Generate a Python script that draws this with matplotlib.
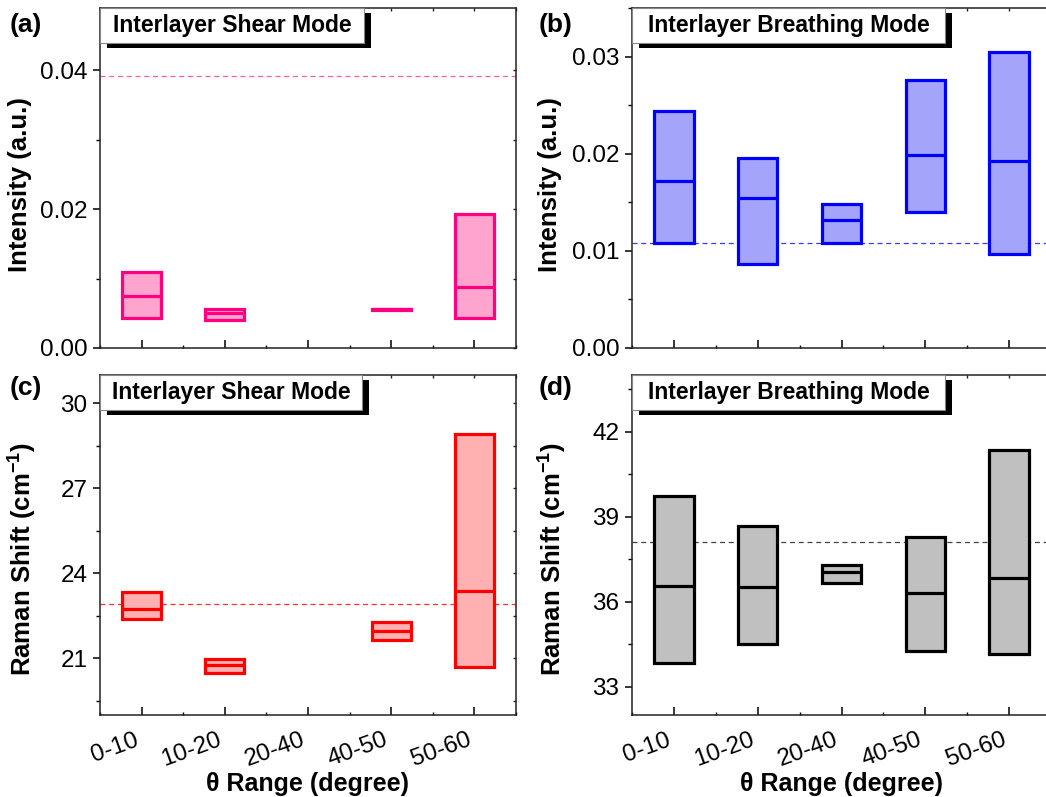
import matplotlib
matplotlib.use('Agg')
import matplotlib.pyplot as plt
import numpy as np
from matplotlib.patches import Rectangle
from matplotlib.ticker import MultipleLocator, FormatStrFormatter, NullFormatter

# Data:
cats = ['0-10', '10-20', '20-40', '40-50', '50-60']

# (a) shear mode intensity
shear_int_low = [0.0043, 0.0040, np.nan, 0.00553, 0.0043]
shear_int_med = [0.00755, 0.0050, np.nan, 0.0056, 0.00885]
shear_int_high = [0.0109, 0.00555, np.nan, 0.00568, 0.0193]
shear_int_ref = 0.03925

# (b) breathing mode intensity
breath_int_low = [0.0108, 0.0086, 0.0108, 0.0140, 0.0097]
breath_int_med = [0.01714, 0.01539, 0.01313, 0.01989, 0.01927]
breath_int_high = [0.0244, 0.0196, 0.0148, 0.0276, 0.0305]
breath_int_ref = 0.0108

# (c) shear mode Raman shift
shear_shift_low = [22.40, 20.50, np.nan, 21.63, 20.71]
shear_shift_med = [22.74, 20.78, np.nan, 21.95, 23.36]
shear_shift_high = [23.34, 20.96, np.nan, 22.28, 28.92]
shear_shift_ref = 22.92

# (d) breathing mode Raman shift
breath_shift_low = [33.82, 34.49, 36.67, 34.25, 34.14]
breath_shift_med = [36.56, 36.53, 37.06, 36.30, 36.83]
breath_shift_high = [39.72, 38.68, 37.28, 38.27, 41.36]
breath_shift_ref = 38.12

# %% Plotting:
plt.rcParams['font.family'] = ['Liberation Sans', 'DejaVu Sans']
plt.rcParams['mathtext.fontset'] = 'custom'
plt.rcParams['mathtext.rm'] = 'Liberation Sans'
plt.rcParams['mathtext.bf'] = 'Liberation Sans:bold'
fsize = 17.5
plt.close('all')

fig = plt.figure(figsize=(10.46, 7.97), dpi=100)
W, H = 1046, 797


def px_axes(left, top, width, height):
    return fig.add_axes([left / W, 1 - (top + height) / H, width / W, height / H])


ax_a = px_axes(100, 8, 416, 340)
ax_b = px_axes(632, 8, 419, 340)
ax_c = px_axes(100, 375, 416, 340)
ax_d = px_axes(632, 375, 419, 340)


def draw_panel(ax, low, med, high, ref, edge, fill, refcolor, ylim, major, minor, fmt,
               title, box_w, ylabel, bottom_row, ylab_x, ylab_y):
    x = np.arange(len(cats))
    ok = ~np.isnan(np.array(low))
    lo = np.array(low)[ok]
    hi = np.array(high)[ok]
    md = np.array(med)[ok]
    xs = x[ok]
    bw = 0.47
    ax.bar(xs, hi - lo, bottom=lo, width=bw, color=fill, edgecolor=edge,
           linewidth=2.3, zorder=3)
    for b in ax.patches:
        b.set_joinstyle('miter')
    ax.hlines(md, xs - bw / 2, xs + bw / 2, colors=edge, linewidth=2.3, zorder=4)
    ax.axhline(ref, color=refcolor, linestyle=(0, (4, 3)), linewidth=0.9, zorder=2)

    ax.set_xlim(-0.5, 4.5)
    ax.set_ylim(*ylim)
    ax.set_xticks(x)
    ax.xaxis.set_minor_locator(MultipleLocator(0.5))
    ax.yaxis.set_major_locator(MultipleLocator(major))
    ax.yaxis.set_minor_locator(MultipleLocator(minor))
    ax.yaxis.set_major_formatter(FormatStrFormatter(fmt))

    for sp in ax.spines.values():
        sp.set_linewidth(1.1)
        sp.set_color('#222222')
    ax.tick_params(axis='x', which='major', direction='in', length=6, width=1.1,
                   top=False, labelsize=fsize, pad=10)
    ax.tick_params(axis='x', which='minor', direction='in', length=2, width=1.0, top=False)
    ax.tick_params(axis='y', which='major', direction='out', length=5, width=1.1,
                   labelsize=fsize, pad=4, right=False)
    ax.tick_params(axis='y', which='minor', direction='out', length=3, width=1.0, right=False)

    # small inward ticks on the opposite spines
    top = ax.secondary_xaxis('top')
    top.set_xticks(np.arange(-0.5, 5.0, 0.5))
    top.xaxis.set_major_formatter(NullFormatter())
    top.tick_params(direction='in', length=2, width=1.0, color='#222222')
    top.spines['top'].set_visible(False)
    right = ax.secondary_yaxis('right')
    right.yaxis.set_major_locator(MultipleLocator(minor))
    right.yaxis.set_major_formatter(NullFormatter())
    right.tick_params(direction='in', length=2, width=1.0, color='#222222')
    right.spines['right'].set_visible(False)

    if bottom_row:
        ax.set_xticklabels(cats, rotation=20, ha='right')
        ax.set_xlabel(u'\u03b8 Range (degree)', fontsize=18, fontweight='bold')
        ax.xaxis.set_label_coords(0.5, -0.168)
    else:
        ax.tick_params(axis='x', labelbottom=False)

    ax.set_ylabel(ylabel, fontsize=18.5, fontweight='bold')
    ax.yaxis.set_label_coords(ylab_x, ylab_y)

    # title box with black drop shadow
    hb = 35 / 340.0
    dx = 6.5 / ax.bbox.width
    dy = 5 / 340.0
    ax.add_patch(Rectangle((dx, 1 - hb - dy), box_w, hb, transform=ax.transAxes,
                           facecolor='black', edgecolor='none', clip_on=False, zorder=10))
    ax.add_patch(Rectangle((0, 1 - hb), box_w, hb, transform=ax.transAxes,
                           facecolor='white', edgecolor='#888888', linewidth=0.8,
                           clip_on=False, zorder=11))
    ax.text(box_w / 2, 1 - hb / 2, title, transform=ax.transAxes, ha='center',
            va='center', fontsize=16.5, fontweight='bold', zorder=12)


draw_panel(ax_a, shear_int_low, shear_int_med, shear_int_high, shear_int_ref,
           '#FF0080', '#FFA4CF', '#FF5AA5', (0, 0.049), 0.02, 0.01, '%.2f',
           'Interlayer Shear Mode', 0.635, 'Intensity (a.u.)', False, -0.163, 0.48)
draw_panel(ax_b, breath_int_low, breath_int_med, breath_int_high, breath_int_ref,
           '#0000FF', '#A4A4FA', '#3A3AFF', (0, 0.035), 0.01, 0.005, '%.2f',
           'Interlayer Breathing Mode', 0.748, 'Intensity (a.u.)', False, -0.167, 0.48)
draw_panel(ax_c, shear_shift_low, shear_shift_med, shear_shift_high, shear_shift_ref,
           '#FF0000', '#FFB0B0', '#FF3030', (19, 31), 3, 1.5, '%d',
           'Interlayer Shear Mode', 0.631, r'Raman Shift (cm$^{\mathbf{-1}}$)', True,
           -0.148, 0.46)
draw_panel(ax_d, breath_shift_low, breath_shift_med, breath_shift_high, breath_shift_ref,
           'black', '#C0C0C0', '#444444', (32, 44), 3, 1.5, '%d',
           'Interlayer Breathing Mode', 0.748, r'Raman Shift (cm$^{\mathbf{-1}}$)', True,
           -0.152, 0.46)

# panel letters
for lab, xp, yp in [('(a)', 26, 25), ('(b)', 556, 25), ('(c)', 26, 388), ('(d)', 556, 388)]:
    fig.text(xp / W, 1 - yp / H, lab, ha='center', va='center', fontsize=19,
             fontweight='bold')

plt.savefig('out.png', dpi=100)
